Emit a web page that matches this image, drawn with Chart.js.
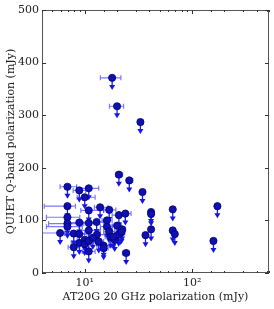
<!DOCTYPE html>
<html>
<head>
<meta charset="utf-8">
<script src="https://cdn.jsdelivr.net/npm/chart.js@4"></script>
<style>
  html, body { margin: 0; padding: 0; background: #fff; }
  #wrap { width: 274px; height: 309px; }
</style>
</head>
<body>
<div id="wrap"><canvas id="polChart" width="274" height="309"></canvas></div>
<script>
// AT20G 20 GHz polarization (mJy) and its error range
let at20g = [18, 20, 33, 20.8, 26, 34.5, 6.9, 8.9, 10.9, 10, 6.9, 10.9, 13.9, 16.9, 6.9, 6.9, 6.9, 8.9, 10.9, 12.9,
  16.1, 20.8, 23.9, 41.5, 41.5, 66, 172, 5.9, 7.9, 8.9, 10.9, 13, 16.1, 16.9, 20, 22.3, 21.5, 36.8, 41.5, 66,
  69, 158, 7.9, 8.9, 10, 10, 10.9, 10.9, 11.9, 15, 15, 17.5, 19, 20.7, 18.5, 24.3, 13.5, 22];
let at20gLow = [14, 17, 31.5, 19.5, 24.5, 33, 5.9, 7.8, 8.4, 8.5, 4.2, 9.2, 12.3, 15, 4.4, 4.6, 4.4, 6.5, 9, 11,
  14.5, 18, 21, 40.5, 40.5, 64, 168, 3.5, 6.5, 7.5, 9, 11, 14, 15, 18, 20.5, 19.5, 35, 40.5, 64,
  67, 154, 7, 7.5, 8.5, 8.8, 9.5, 9.5, 10.5, 13, 13.5, 15.5, 17, 19, 16.5, 22.5, 12, 20.5];
let at20gHigh = [21.7, 23, 35, 22.5, 28, 36, 8.4, 10.2, 13.5, 12.5, 8.2, 15, 16.5, 19.5, 9, 9.8, 9.5, 11, 13, 15,
  18, 23.5, 27, 42.5, 42.5, 68, 176, 8.5, 10, 11, 14, 15.5, 18, 19, 22, 24, 23.5, 38.5, 42.5, 68,
  71, 162, 9, 10.5, 12, 11.5, 12.5, 12.5, 13.5, 17, 16.5, 19.5, 21, 22.5, 20.5, 26, 15, 23.5];
// QUIET Q-band polarization upper limits (mJy)
let quiet = [371, 317, 287, 187, 176, 154, 164, 157, 161, 144, 127, 119, 125, 120, 106, 94, 88, 96, 95, 97,
  100, 110, 113, 116, 112, 121, 127, 76, 75, 74, 81, 73, 88, 79, 90, 83, 76, 72, 83, 81,
  74, 61, 49, 57, 63, 55, 61, 41, 67, 52, 47, 69, 63, 73, 69, 38, 60, 78];
let arrowDrop = 21;
let xTickLabels = {10: '10\u00b9', 100: '10\u00b2'};
let yTicks = [0, 100, 200, 300, 400, 500];

let serif = "'DejaVu Serif', 'Liberation Serif', serif";

let points = at20g.map((x, i) => ({x: x, y: quiet[i]}));

let errorBars = {
  id: 'errorBars',
  beforeDatasetsDraw(chart) {
    let ctx = chart.ctx;
    let xs = chart.scales.x, ys = chart.scales.y;
    let area = chart.chartArea;
    ctx.save();
    ctx.beginPath();
    ctx.rect(area.left, area.top, area.right - area.left, area.bottom - area.top);
    ctx.clip();
    for (let i = 0; i < at20g.length; i++) {
      let px = xs.getPixelForValue(at20g[i]);
      let py = ys.getPixelForValue(quiet[i]);
      let lo = xs.getPixelForValue(at20gLow[i]);
      let hi = xs.getPixelForValue(at20gHigh[i]);
      // horizontal error bar with caps
      ctx.strokeStyle = 'rgba(50,50,255,0.65)';
      ctx.lineWidth = 1.2;
      ctx.beginPath();
      ctx.moveTo(lo, py); ctx.lineTo(hi, py);
      ctx.moveTo(lo, py - 2.5); ctx.lineTo(lo, py + 2.5);
      ctx.moveTo(hi, py - 2.5); ctx.lineTo(hi, py + 2.5);
      ctx.stroke();
      // upper-limit arrow
      let tip = ys.getPixelForValue(quiet[i] - arrowDrop);
      ctx.strokeStyle = '#1c1cf0';
      ctx.lineWidth = 1.3;
      ctx.beginPath();
      ctx.moveTo(px, py); ctx.lineTo(px, tip - 2);
      ctx.stroke();
      ctx.fillStyle = '#1414e6';
      ctx.beginPath();
      ctx.moveTo(px - 3, tip - 4);
      ctx.lineTo(px + 3, tip - 4);
      ctx.lineTo(px, tip + 1);
      ctx.closePath();
      ctx.fill();
    }
    ctx.restore();
  }
};

let frameTicks = {
  id: 'frameTicks',
  afterDraw(chart) {
    let ctx = chart.ctx;
    let xs = chart.scales.x, ys = chart.scales.y;
    let a = chart.chartArea;
    ctx.save();
    ctx.strokeStyle = '#555';
    ctx.lineWidth = 1;
    ctx.strokeRect(Math.round(a.left) + 0.5, Math.round(a.top) + 0.5,
      Math.round(a.right - a.left) - 1, Math.round(a.bottom - a.top) - 1);
    ctx.strokeStyle = '#333';
    ctx.beginPath();
    xs.ticks.forEach(t => {
      let p = Math.round(xs.getPixelForValue(t.value)) + 0.5;
      let major = xTickLabels[t.value] !== undefined;
      let len = major ? 4 : 2;
      ctx.moveTo(p, a.bottom); ctx.lineTo(p, a.bottom - len);
      ctx.moveTo(p, a.top); ctx.lineTo(p, a.top + len);
    });
    yTicks.forEach(v => {
      let p = Math.round(ys.getPixelForValue(v)) + 0.5;
      ctx.moveTo(a.left, p); ctx.lineTo(a.left + 4, p);
      ctx.moveTo(a.right, p); ctx.lineTo(a.right - 4, p);
    });
    ctx.stroke();
    ctx.restore();
  }
};

new Chart(document.getElementById('polChart').getContext('2d'), {
  type: 'scatter',
  data: {
    datasets: [{
      data: points,
      pointRadius: 3.6,
      pointBackgroundColor: '#1010b0',
      pointBorderColor: '#000070',
      pointBorderWidth: 0.8,
      showLine: false
    }]
  },
  options: {
    responsive: false,
    animation: false,
    layout: {padding: {top: 10, right: 5, left: 0, bottom: 0}},
    plugins: {legend: {display: false}, tooltip: {enabled: false}},
    scales: {
      x: {
        type: 'logarithmic',
        min: 4,
        max: 520,
        grid: {display: false, drawTicks: false},
        border: {display: false},
        afterFit: s => { s.height = 36; },
        ticks: {
          autoSkip: false,
          maxRotation: 0,
          padding: 4,
          color: '#222',
          font: {family: serif, size: 11},
          callback: v => xTickLabels[v] || ''
        },
        title: {
          display: true,
          text: 'AT20G 20 GHz polarization (mJy)',
          color: '#222',
          font: {family: serif, size: 11},
          padding: {top: 2, bottom: 5}
        }
      },
      y: {
        min: 0,
        max: 500,
        grid: {display: false, drawTicks: false},
        border: {display: false},
        afterFit: s => { s.width = 42; },
        ticks: {
          stepSize: 100,
          padding: 3,
          color: '#222',
          font: {family: serif, size: 11}
        },
        title: {
          display: true,
          text: 'QUIET Q-band polarization (mJy)',
          color: '#222',
          font: {family: serif, size: 11},
          padding: {top: 5, bottom: 2}
        }
      }
    }
  },
  plugins: [errorBars, frameTicks]
});
</script>
</body>
</html>
